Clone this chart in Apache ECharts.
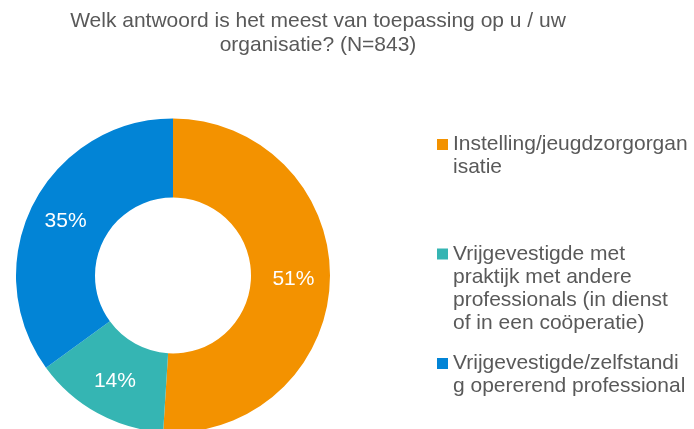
<!DOCTYPE html>
<html>
<head>
<meta charset="utf-8">
<script src="https://cdn.jsdelivr.net/npm/echarts@6/dist/echarts.min.js"></script>
<style>html,body{margin:0;padding:0;background:#fff}#c{width:694px;height:429px}</style>
</head>
<body>
<div id="c"></div>
<script>
const titleText = 'Welk antwoord is het meest van toepassing op u / uw\norganisatie? (N=843)';
const categories = [
  'Instelling/jeugdzorgorganisatie',
  'Vrijgevestigde met praktijk met andere professionals (in dienst of in een coöperatie)',
  'Vrijgevestigde/zelfstandig opererend professional'
];
const legendLines = [
  ['Instelling/jeugdzorgorgan', 'isatie'],
  ['Vrijgevestigde met', 'praktijk met andere', 'professionals (in dienst', 'of in een coöperatie)'],
  ['Vrijgevestigde/zelfstandi', 'g opererend professional']
];
const values = [51, 14, 35];
const colors = ['#F39200', '#35B5B3', '#0284D6'];

const FONT = '"Liberation Sans", Arial, sans-serif';
const LH = 23;
const iconCenters = [144.5, 254, 363.5];

const legends = categories.map((name, i) => {
  const n = legendLines[i].length;
  const total = 2 * n - 1;
  return {
    data: [name],
    orient: 'vertical',
    left: 437,
    top: iconCenters[i] - total * LH / 2,
    padding: 0,
    itemWidth: 11,
    itemHeight: 11,
    itemGap: 0,
    icon: 'rect',
    selectedMode: false,
    formatter: function () {
      const lines = [];
      for (let k = 0; k < n - 1; k++) lines.push(' ');
      return lines.concat(legendLines[i]).join('\n');
    },
    textStyle: { color: '#595959', fontSize: 21, fontFamily: FONT, lineHeight: LH, padding: [0,0,0,0] }
  };
});

const chart = echarts.init(document.getElementById('c'), null, { renderer: 'canvas' });
chart.setOption({
  animation: false,
  color: colors,
  title: {
    text: titleText,
    left: 318,
    textAlign: 'center',
    top: 9,
    padding: 0,
    textStyle: { color: '#595959', fontSize: 21, fontWeight: 'normal', fontFamily: FONT, lineHeight: 24 }
  },
  legend: legends,
  series: [{
    type: 'pie',
    center: [173, 275.5],
    radius: [78, 157],
    startAngle: 90,
    clockwise: true,
    avoidLabelOverlap: false,
    label: {
      show: true,
      position: 'inside',
      formatter: '{c}%',
      color: '#ffffff',
      fontSize: 21,
      fontFamily: FONT
    },
    labelLine: { show: false },
    itemStyle: { borderWidth: 0 },
    emphasis: { disabled: true },
    data: categories.map((name, i) => ({ name: name, value: values[i] }))
  }]
});
</script>
</body>
</html>
